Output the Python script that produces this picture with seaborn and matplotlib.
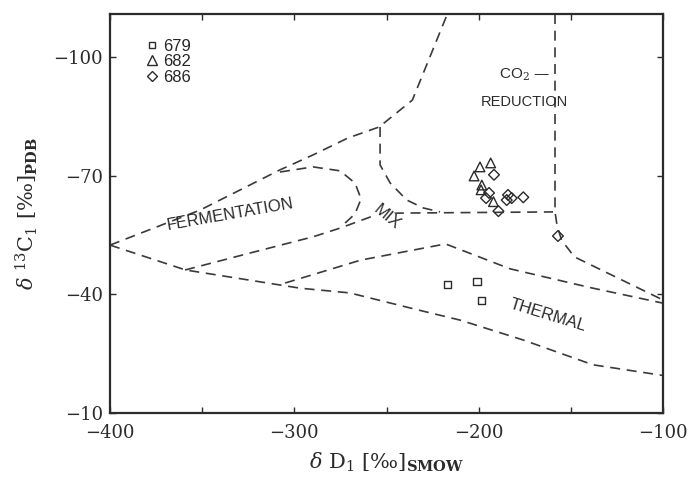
import numpy as np
import pandas as pd
import matplotlib
matplotlib.use("Agg")
import matplotlib.pyplot as plt
import seaborn as sns
from matplotlib.lines import Line2D

# Methane isotope measurements, one row per sample (deltaD, delta13C)
site_679_dD = [-216.8, -200.9, -198.4]
site_679_d13C = [-42.6, -43.4, -38.4]

site_682_dD = [-202.5, -199.3, -193.5, -198.3, -198.7, -192.0]
site_682_d13C = [-70.0, -72.3, -73.3, -67.7, -66.5, -63.5]

site_686_dD = [-191.7, -194.4, -196.0, -184.1, -184.8, -182.1, -175.8, -189.3, -157.0]
site_686_d13C = [-70.3, -65.7, -64.4, -65.2, -63.9, -64.4, -64.6, -61.1, -54.8]

# Genetic field boundaries (deltaD, delta13C)
upper_env_dD = [-400, -351, -308, -290, -271, -254, -236, -217]
upper_env_d13C = [-52.5, -61.4, -71.5, -75.3, -79.6, -82.4, -89.2, -111]

ferm_base_dD = [-359.3, -324.0, -289.9, -275.2, -258.9, -244.3, -159.7]
ferm_base_d13C = [-46.2, -50.5, -54.6, -56.8, -59.6, -60.6, -60.9]

ferm_cap_dD = [-307.8, -289.9, -275.2, -267.1, -263.8, -267.1, -273.6]
ferm_cap_d13C = [-71.0, -72.3, -71.3, -68.2, -64.2, -60.4, -57.6]

co2_inner_dD = [-253.5, -253.5, -248, -239, -230, -221]
co2_inner_d13C = [-82.4, -72.8, -68.2, -63.9, -61.9, -60.9]

co2_right_dD = [-158.6, -158.6, -157.5, -155, -148, -100]
co2_right_d13C = [-111, -60.9, -57.5, -53.7, -49.5, -38.6]

therm_upper_dD = [-305, -264, -218, -183, -140, -100]
therm_upper_d13C = [-42.9, -48.7, -52.8, -46.5, -41.8, -37.8]

lower_env_dD = [-400, -359, -297, -270, -233, -210, -176, -138, -100]
lower_env_d13C = [-52.5, -46.2, -41.6, -40.4, -36.1, -33.5, -28.5, -22.2, -19.5]

boundaries = [
    (upper_env_dD, upper_env_d13C),
    (ferm_base_dD, ferm_base_d13C),
    (ferm_cap_dD, ferm_cap_d13C),
    (co2_inner_dD, co2_inner_d13C),
    (co2_right_dD, co2_right_d13C),
    (therm_upper_dD, therm_upper_d13C),
    (lower_env_dD, lower_env_d13C),
]

sites = ["679", "682", "686"]
markers = {"679": "s", "682": "^", "686": "D"}
marker_sizes = {"679": 26, "682": 48, "686": 30}
legend_ms = {"679": 5, "682": 6.5, "686": 5.5}

df = pd.concat([
    pd.DataFrame({"dD": site_679_dD, "d13C": site_679_d13C, "site": "679"}),
    pd.DataFrame({"dD": site_682_dD, "d13C": site_682_d13C, "site": "682"}),
    pd.DataFrame({"dD": site_686_dD, "d13C": site_686_d13C, "site": "686"}),
])

sns.set_style("ticks")
plt.rcParams["mathtext.fontset"] = "dejavuserif"
serif = ["DejaVu Serif"]
sans = ["Liberation Sans", "DejaVu Sans"]
ink = "#2b2b2b"

fig = plt.figure(figsize=(6.89, 4.78), dpi=100)
ax = fig.add_axes([0.1597, 0.136, 0.8026, 0.8347])

for bx, by in boundaries:
    sns.lineplot(x=bx, y=by, ax=ax, sort=False, color="#3a3a3a", lw=1.2,
                 linestyle=(0, (6, 4)), estimator=None)

for s in sites:
    sub = df[df["site"] == s]
    sns.scatterplot(data=sub, x="dD", y="d13C", ax=ax, marker=markers[s],
                    s=marker_sizes[s], linewidth=1.0, legend=False, zorder=3)
for coll in ax.collections:
    coll.set_facecolor("none")
    coll.set_edgecolor(ink)

ax.set_xlim(-400, -100)
ax.set_ylim(-10, -111)
ax.set_xticks([-400, -300, -200, -100])
ax.set_xticks([-350, -250, -150], minor=True)
ax.set_yticks([-10, -40, -70, -100])
ax.tick_params(direction="in", which="both", top=True, right=True,
               length=4, width=1, labelsize=13, colors=ink)
ax.tick_params(axis="x", pad=8)
ax.tick_params(axis="y", pad=5)
for lab in ax.get_xticklabels() + ax.get_yticklabels():
    lab.set_family(serif)
for sp in ax.spines.values():
    sp.set_linewidth(1.6)
    sp.set_color(ink)

ax.set_xlabel(r"$\delta$ D$_1$ [‰]$_{\mathbf{SMOW}}$", fontsize=15, family=serif,
              color=ink, labelpad=6)
ax.set_ylabel(r"$\delta$ $^{13}$C$_1$ [‰]$_{\mathbf{PDB}}$", fontsize=15, family=serif,
              color=ink, labelpad=10)

handles = [Line2D([], [], marker=markers[s], ls="none", mfc="none", mec=ink,
                  ms=legend_ms[s], mew=1.0) for s in sites]
ax.legend(handles, sites, loc="upper left", bbox_to_anchor=(0.03, 0.975),
          frameon=False, handletextpad=0.1, labelspacing=0.02, handlelength=1.2,
          prop={"family": sans, "size": 12})

ax.text(-335, -60.3, "FERMENTATION", rotation=10, fontsize=12, family=sans,
        color=ink, ha="center", va="center")
ax.text(-250, -59.6, "MIX", rotation=-40, fontsize=12, family=sans,
        color=ink, ha="center", va="center",
        bbox=dict(fc="white", ec="none", pad=0.5), zorder=4)
ax.text(-175, -95.6, "CO$_2$ —", fontsize=11, family=sans, color=ink,
        ha="center", va="center")
ax.text(-175, -88.7, "REDUCTION", fontsize=10.5, family=sans, color=ink,
        ha="center", va="center")
ax.text(-162.4, -34.6, "THERMAL", rotation=-17, fontsize=12, family=sans,
        color=ink, ha="center", va="center")

fig.savefig("out.png", dpi=100)
